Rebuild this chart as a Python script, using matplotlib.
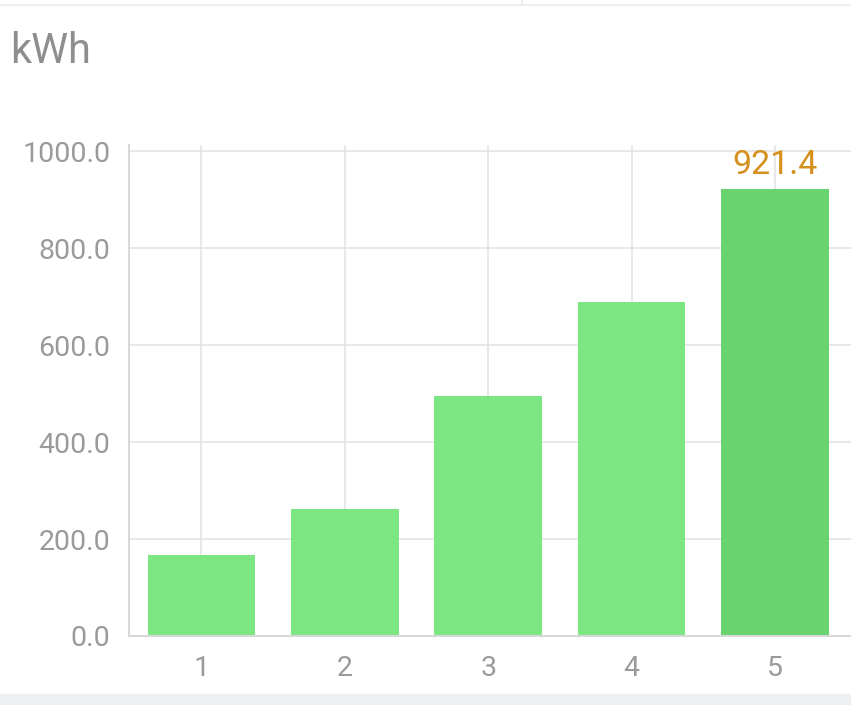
import matplotlib.pyplot as plt
from matplotlib.lines import Line2D
from matplotlib.patches import Rectangle

categories = ['1', '2', '3', '4', '5']
values = [167, 262, 495, 690, 921.4]
yticks = [0, 200, 400, 600, 800, 1000]
unit = 'kWh'

plt.rcParams['font.family'] = ['Roboto', 'DejaVu Sans']

W, H = 851, 705
fig = plt.figure(figsize=(W / 100, H / 100), dpi=100)

# plot area in pixels -> figure fraction
left, right, top, bottom = 129.3, 851, 145, 636
ax = fig.add_axes([left / W, 1 - bottom / H, (right - left) / W, (bottom - top) / H])

x = list(range(1, len(values) + 1))
colors = ['#7be682'] * len(values)
colors[-1] = '#69d46f'
ax.bar(x, values, width=0.75, color=colors, zorder=2)

ax.set_xlim(0.498, 5.53)
ax.set_ylim(0, 1013)
ax.set_xticks(x)
ax.set_xticklabels(categories)
ax.set_yticks(yticks)
ax.set_yticklabels([f'{v:.1f}' for v in yticks])
ax.tick_params(length=0, colors='#9a9a9a', labelsize=20.5)
ax.tick_params(axis='y', pad=13.5)
ax.tick_params(axis='x', pad=14)

ax.grid(True, color='#e2e2e2', linewidth=1.1, zorder=0)
ax.set_axisbelow(True)
for s in ['top', 'right']:
    ax.spines[s].set_visible(False)
for s in ['left', 'bottom']:
    ax.spines[s].set_color('#d8d8d8')
    ax.spines[s].set_linewidth(1.5)

ax.annotate(f'{values[-1]:.1f}', (x[-1], values[-1]), xytext=(0, 6),
            textcoords='offset points', ha='center', va='bottom',
            color='#d4901a', fontsize=24.5)

fig.text(10 / W, 1 - 63 / H, unit, color='#8e8e8e', fontsize=30,
         ha='left', va='baseline')

# thin frame at the top and grey strip at the bottom
fig.add_artist(Line2D([0, 1], [1 - 5 / H] * 2, color='#ececec', lw=1.2,
                      transform=fig.transFigure))
fig.add_artist(Line2D([522 / W] * 2, [1, 1 - 5 / H], color='#ececec', lw=1.2,
                      transform=fig.transFigure))
fig.add_artist(Rectangle((0, 0), 1, 11 / H, color='#edf0f2',
                         transform=fig.transFigure, zorder=0))

fig.savefig('out.png', dpi=100)
